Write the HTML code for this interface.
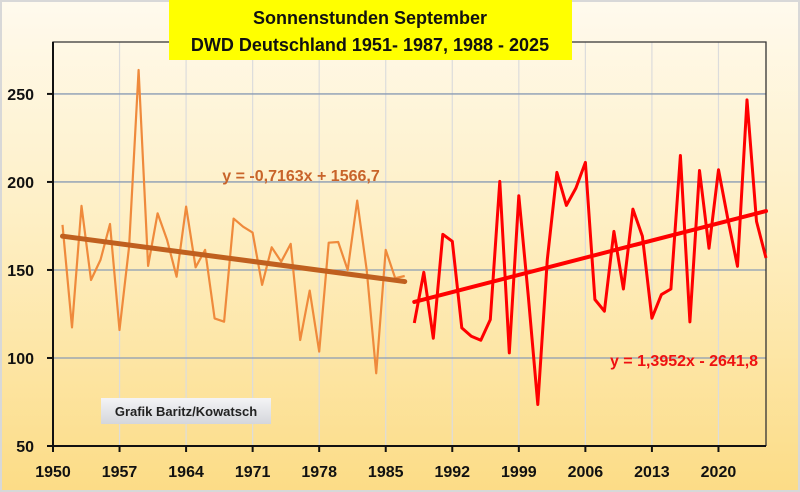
<!DOCTYPE html>
<html><head><meta charset="utf-8">
<style>
html,body{margin:0;padding:0;width:800px;height:492px;overflow:hidden;}
body{font-family:"Liberation Sans",sans-serif;}
</style></head>
<body>
<svg id="chart" width="800" height="492" viewBox="0 0 800 492" xmlns="http://www.w3.org/2000/svg">
<defs>
<linearGradient id="bg" x1="0" y1="0" x2="0" y2="1">
<stop offset="0" stop-color="#fffaee"/>
<stop offset="0.45" stop-color="#feefc4"/>
<stop offset="1" stop-color="#fcdc86"/>
</linearGradient>
<linearGradient id="lbl" x1="0" y1="0" x2="0" y2="1">
<stop offset="0" stop-color="#f4f4f6"/>
<stop offset="1" stop-color="#d4d6dc"/>
</linearGradient>
</defs>
<rect x="0" y="0" width="800" height="492" fill="url(#bg)"/>
<rect x="1" y="1" width="798" height="490" fill="none" stroke="#d8d8d8" stroke-width="2"/>
<g id="grid"></g>
<g id="axes"></g>
<g id="series"></g>
<rect x="169" y="0" width="403" height="60" fill="#ffff00"/>
<text x="370" y="24" text-anchor="middle" font-family="Liberation Sans, sans-serif" font-weight="bold" font-size="18" fill="#111">Sonnenstunden September</text>
<text x="370" y="51" text-anchor="middle" font-family="Liberation Sans, sans-serif" font-weight="bold" font-size="18" fill="#111">DWD Deutschland 1951- 1987, 1988 - 2025</text>
<text x="301" y="181" text-anchor="middle" font-family="Liberation Sans, sans-serif" font-weight="bold" font-size="16" fill="#c8642a">y = -0,7163x + 1566,7</text>
<text x="684" y="366" text-anchor="middle" font-family="Liberation Sans, sans-serif" font-weight="bold" font-size="16" fill="#ee1111">y = 1,3952x - 2641,8</text>
<rect x="101" y="398" width="170" height="26" fill="url(#lbl)"/>
<text x="186" y="416" text-anchor="middle" font-family="Liberation Sans, sans-serif" font-weight="bold" font-size="13" fill="#222">Grafik Baritz/Kowatsch</text>
</svg>
<script>
const yTicks = [50, 100, 150, 200, 250];
const xTicks = [1950, 1957, 1964, 1971, 1978, 1985, 1992, 1999, 2006, 2013, 2020];
const earlyYears = [1951,1952,1953,1954,1955,1956,1957,1958,1959,1960,1961,1962,1963,1964,1965,1966,1967,1968,1969,1970,1971,1972,1973,1974,1975,1976,1977,1978,1979,1980,1981,1982,1983,1984,1985,1986,1987];
const earlyValues = [175.6,117.4,186.4,144.3,155.7,176.1,115.9,163.3,263.6,152.3,182.2,167.0,146.2,186.0,151.5,161.4,122.5,120.6,179.2,174.6,171.2,141.5,162.9,154.7,164.8,110.2,138.3,103.6,165.5,165.9,150.0,189.4,150.0,91.3,161.4,145.3,146.6];
const lateYears = [1988,1989,1990,1991,1992,1993,1994,1995,1996,1997,1998,1999,2000,2001,2002,2003,2004,2005,2006,2007,2008,2009,2010,2011,2012,2013,2014,2015,2016,2017,2018,2019,2020,2021,2022,2023,2024,2025];
const lateValues = [119.9,148.7,111.2,170.2,166.3,117.1,112.4,110.1,121.8,200.3,102.9,192.2,135.1,73.6,155.9,205.4,186.7,196.5,211.1,133.2,126.6,171.9,139.2,184.6,169.1,122.6,136.0,139.2,215.0,120.5,206.5,162.3,206.9,178.5,152.1,246.6,177.6,156.8];
const earlyTrend = [-0.7163, 1566.7];
const lateTrend = [1.3952, -2641.8];

const L=53, R=766, T=42, B=446;
const xMin=1950, xMax=2025, yMin=50, yMax=279.5;
function xs(v){return L+(v-xMin)/(xMax-xMin)*(R-L);}
function ys(v){return B-(v-yMin)/(yMax-yMin)*(B-T);}
const NS="http://www.w3.org/2000/svg";
function mk(tag,attrs,parent){const e=document.createElementNS(NS,tag);for(const k in attrs)e.setAttribute(k,attrs[k]);parent.appendChild(e);return e;}
const grid=document.getElementById('grid'), axes=document.getElementById('axes'), series=document.getElementById('series');

xTicks.forEach(t=>{
  if(t===xMin) return;
  const l=mk('line',{x1:xs(t),x2:xs(t),y1:T,y2:B,stroke:'#dcdcdc','stroke-width':1.2},grid);
  
  
});
yTicks.forEach(t=>{
  if(t===yMin) return;
  const l=mk('line',{x1:L,x2:R,y1:ys(t),y2:ys(t),stroke:'#8a9cb4','stroke-width':1.3},grid);
  
  
});
const frame=mk('path',{d:`M${L},${B} L${L},${T} L${R},${T} L${R},${B}`,fill:'none',stroke:'#333','stroke-width':1.3},axes);


const xa=mk('line',{x1:L,x2:R,y1:B,y2:B,stroke:'#111','stroke-width':2},axes);


const ya=mk('line',{x1:L,x2:L,y1:T,y2:B,stroke:'#111','stroke-width':2},axes);


yTicks.forEach(t=>{
  const tk=mk('line',{x1:L-6,x2:L,y1:ys(t),y2:ys(t),stroke:'#111','stroke-width':2},axes);
  
  
  const tx=mk('text',{x:34,y:ys(t)+6,'text-anchor':'end','font-family':'Liberation Sans, sans-serif','font-weight':'bold','font-size':16,fill:'#111'},axes);
  tx.textContent=t;
  
  
});
xTicks.forEach(t=>{
  const tk=mk('line',{x1:xs(t),x2:xs(t),y1:B,y2:B+6,stroke:'#111','stroke-width':2},axes);
  
  
  const tx=mk('text',{x:xs(t),y:477,'text-anchor':'middle','font-family':'Liberation Sans, sans-serif','font-weight':'bold','font-size':16,fill:'#111'},axes);
  tx.textContent=t;
  
  
});
function pts(years,vals){return years.map((y,i)=>xs(y).toFixed(1)+','+ys(vals[i]).toFixed(1)).join(' ');}
const e1=mk('polyline',{points:pts(earlyYears,earlyValues),fill:'none',stroke:'#ef8a3c','stroke-width':2.2,'stroke-linejoin':'round'},series);


const e2=mk('polyline',{points:pts(lateYears,lateValues),fill:'none',stroke:'#ff0000','stroke-width':3,'stroke-linejoin':'round'},series);


function trend(years,c){const a=years[0],b=years[years.length-1];return {x1:xs(a),y1:ys(c[0]*a+c[1]),x2:xs(b),y2:ys(c[0]*b+c[1])};}
const t1=trend(earlyYears,earlyTrend);
const tl1=mk('line',Object.assign({stroke:'#c0601f','stroke-width':5,'stroke-linecap':'round'},t1),series);


const t2=trend(lateYears,lateTrend);
const tl2=mk('line',Object.assign({stroke:'#ff0000','stroke-width':4,'stroke-linecap':'round'},t2),series);


</script>
</body></html>
